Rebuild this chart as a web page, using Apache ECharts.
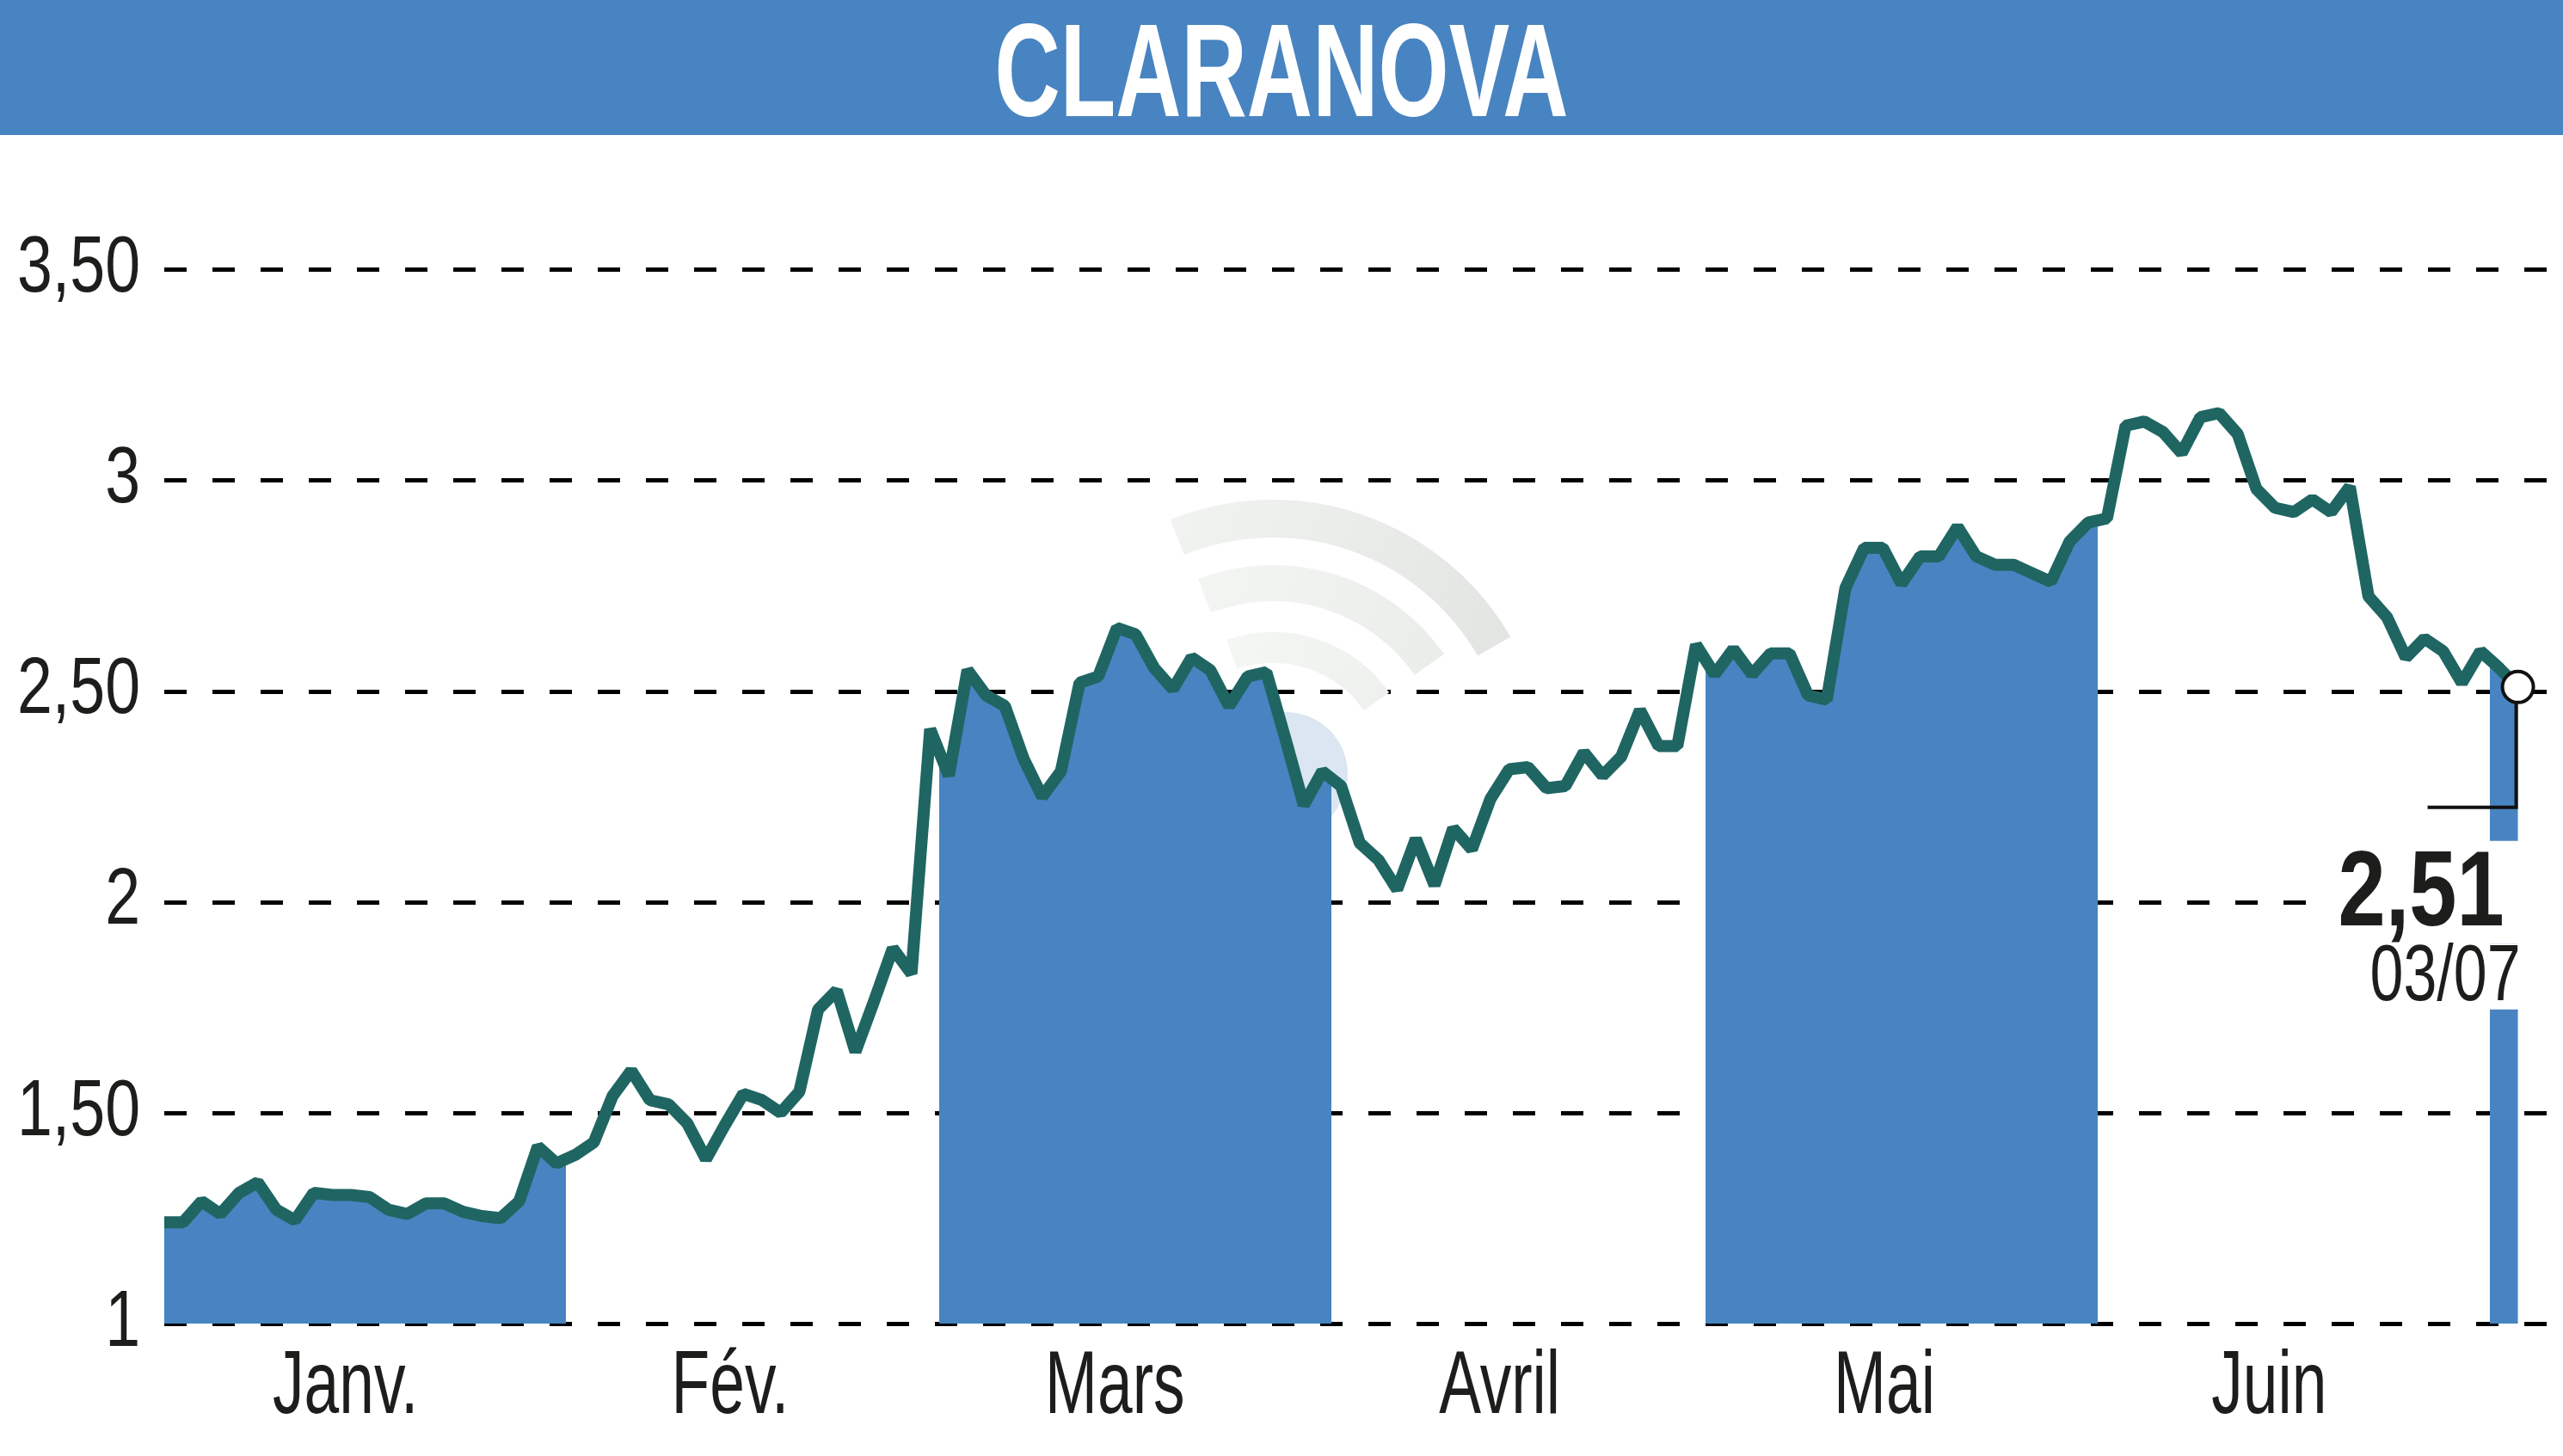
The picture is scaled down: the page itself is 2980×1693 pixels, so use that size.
<!DOCTYPE html>
<html>
<head>
<meta charset="utf-8">
<script src="https://cdn.jsdelivr.net/npm/echarts@6/dist/echarts.min.js"></script>
<style>html,body{margin:0;padding:0;background:#fff}#c{width:2980px;height:1693px}</style>
</head>
<body>
<div id="c"></div>
<script>
// ---------- data ----------
const title = 'CLARANOVA';
const months = ['Janv.', 'Fév.', 'Mars', 'Avril', 'Mai', 'Juin'];
// index of the first session of each month (Janv. .. Juil.)
const monthStart = [0, 22, 42, 63, 83, 104, 125];
// months drawn with a blue background (Janv., Mars, Mai, Juil.)
const shadedMonths = [0, 2, 4, 6];
const prices = [
  1.24, 1.24, 1.29, 1.26, 1.31, 1.335, 1.27, 1.245, 1.31, 1.305,
  1.305, 1.30, 1.27, 1.26, 1.285, 1.285, 1.265, 1.255, 1.25, 1.29,
  1.42, 1.38, 1.40, 1.43, 1.54, 1.60, 1.53, 1.52, 1.475, 1.39,
  1.47, 1.545, 1.53, 1.50, 1.55, 1.745, 1.79, 1.645, 1.765, 1.89,
  1.83, 2.41, 2.30, 2.55, 2.49, 2.465, 2.34, 2.25, 2.31, 2.52,
  2.535, 2.65, 2.635, 2.555, 2.505, 2.58, 2.55, 2.465, 2.535, 2.545,
  2.39, 2.23, 2.31, 2.275, 2.14, 2.10, 2.03, 2.15, 2.04, 2.175,
  2.125, 2.245, 2.315, 2.32, 2.27, 2.275, 2.355, 2.30, 2.345, 2.455,
  2.37, 2.37, 2.61, 2.54, 2.60, 2.54, 2.59, 2.59, 2.49, 2.48,
  2.745, 2.84, 2.84, 2.755, 2.82, 2.82, 2.89, 2.82, 2.80, 2.80,
  2.78, 2.76, 2.855, 2.90, 2.91, 3.13, 3.14, 3.115, 3.065, 3.15,
  3.16, 3.11, 2.98, 2.935, 2.925, 2.955, 2.925, 2.985, 2.725, 2.675,
  2.58, 2.625, 2.595, 2.52, 2.595, 2.555, 2.51
];
const lastDate = '03/07';
const yTicks = [1, 1.5, 2, 2.5, 3, 3.5];
const yTickLabels = ['1', '1,50', '2', '2,50', '3', '3,50'];

// ---------- style ----------
const BLUE = '#4884c1';
const LINE = '#1f6663';
const INK = '#1d1d1b';
const FONT = "'Liberation Sans', 'Arial', sans-serif";

const chart = echarts.init(document.getElementById('c'), null, { renderer: 'canvas' });
const data = prices.map((v, i) => [i, v]);
const last = prices.length - 1;
const pieces = shadedMonths.map(m => ({
  gte: monthStart[m] - 0.5,
  lt: (m + 1 < monthStart.length ? monthStart[m + 1] : prices.length) - 0.5,
  color: BLUE
}));

const option = {
  animation: false,
  backgroundColor: '#fff',
  grid: [
    { left: 191, right: 9, top: 313.6, bottom: 154, containLabel: false, outerBoundsMode: 'none' },
    { left: 178, right: 118, top: 313.6, bottom: 154, containLabel: false, outerBoundsMode: 'none' }
  ],
  xAxis: [
    { type: 'value', gridIndex: 0, min: 0, max: 128, show: false },
    {
      type: 'category', gridIndex: 1, data: months, boundaryGap: true,
      axisLine: { show: false }, axisTick: { show: false }, splitLine: { show: false },
      axisLabel: { show: false }
    }
  ],
  yAxis: [
    {
      type: 'value', gridIndex: 0, min: yTicks[0], max: yTicks[yTicks.length - 1], interval: 0.5,
      axisLine: { show: false }, axisTick: { show: false }, axisLabel: { show: false },
      splitLine: { show: true, lineStyle: { color: '#000', width: 5, type: [26, 30] } }
    },
    { type: 'value', gridIndex: 1, min: 0, max: 1, show: false }
  ],
  visualMap: {
    type: 'piecewise', show: false, dimension: 0, seriesIndex: 0,
    pieces: pieces, outOfRange: { color: 'rgba(72,132,193,0)' }
  },
  series: [
    {
      type: 'line', xAxisIndex: 0, yAxisIndex: 0, data: data, symbol: 'none', silent: true,
      lineStyle: { width: 0, opacity: 0 }, areaStyle: { opacity: 1, origin: 'start' }, z: 2
    },
    {
      type: 'line', xAxisIndex: 0, yAxisIndex: 0, data: data, symbol: 'none',
      lineStyle: { color: LINE, width: 14 }, z: 3,
      markPoint: {
        silent: true,
        data: [{
          coord: [last, prices[last]], symbol: 'circle', symbolSize: 36,
          itemStyle: { color: '#fff', borderColor: '#111', borderWidth: 4 },
          label: { show: false }
        }]
      }
    }
  ]
};
chart.setOption(option);

// ---------- texts & decorations placed through the chart's own scales ----------
const p = chart.convertToPixel({ gridIndex: 0 }, [last, prices[last]]);
const px = p[0], py = p[1];
const baseY = chart.convertToPixel({ yAxisIndex: 0 }, yTicks[0]);
const lastLabel = prices[last].toFixed(2).replace('.', ',');
const deg = Math.PI / 180;
const wmCx = 1480, wmCy = 900;
const Y_LABEL_RIGHT = 163;

const yLabelEls = yTicks.map((t, k) => ({
  type: 'text', silent: true, z: 10,
  x: Y_LABEL_RIGHT, y: chart.convertToPixel({ yAxisIndex: 0 }, t), scaleX: 0.79,
  style: { text: yTickLabels[k], fill: INK, fontSize: 93, fontFamily: FONT, align: 'right', verticalAlign: 'middle' }
}));
const monthEls = months.map(m => ({
  type: 'text', silent: true, z: 10,
  x: chart.convertToPixel({ xAxisIndex: 1 }, m), y: baseY + 76, scaleX: 0.71,
  style: { text: m, fill: INK, fontSize: 103, fontFamily: FONT, align: 'center', verticalAlign: 'middle' }
}));
const arcStroke = (a, b) => ({ type: 'linear', x: 0, y: 0, x2: 1, y2: 1, colorStops: [{ offset: 0, color: a }, { offset: 1, color: b }] });

chart.setOption({
  graphic: [
    { type: 'rect', silent: true, z: 0, shape: { x: 0, y: 0, width: 2980, height: 157 }, style: { fill: BLUE } },
    { type: 'text', silent: true, z: 1, x: 1490, y: 93, scaleX: 0.686,
      style: { text: title, fill: '#fff', fontSize: 154, fontWeight: 'bold', fontFamily: FONT, align: 'center', verticalAlign: 'middle' } },
    // watermark
    { type: 'circle', silent: true, z: 0, shape: { cx: 1495, cy: 900, r: 72 }, style: { fill: '#dbe6f2' } },
    { type: 'arc', silent: true, z: 0, shape: { cx: wmCx, cy: wmCy, r: 297, startAngle: -112 * deg, endAngle: -30 * deg, clockwise: true }, style: { stroke: arcStroke('#f2f4f2', '#e2e4e2'), lineWidth: 44, fill: null } },
    { type: 'arc', silent: true, z: 0, shape: { cx: wmCx, cy: wmCy, r: 222, startAngle: -111 * deg, endAngle: -35 * deg, clockwise: true }, style: { stroke: arcStroke('#f4f6f4', '#e9ece9'), lineWidth: 42, fill: null } },
    { type: 'arc', silent: true, z: 0, shape: { cx: wmCx, cy: wmCy, r: 147, startAngle: -109 * deg, endAngle: -35 * deg, clockwise: true }, style: { stroke: arcStroke('#f5f7f5', '#edf0ed'), lineWidth: 36, fill: null } },
    // axis labels
    ...yLabelEls,
    ...monthEls,
    // last value annotation
    { type: 'rect', silent: true, z: 100, shape: { x: px - 217, y: py + 179, width: 255, height: 120 }, style: { fill: '#fff' } },
    { type: 'rect', silent: true, z: 100, shape: { x: px - 171, y: py + 299, width: 174, height: 76 }, style: { fill: '#fff' } },
    { type: 'polyline', silent: true, z: 101, shape: { points: [[px - 2, py + 18], [px - 2, py + 140], [px - 105, py + 140]] }, style: { stroke: '#111', lineWidth: 4, fill: null } },
    { type: 'text', silent: true, z: 101, x: px - 16, y: py + 243, scaleX: 0.80,
      style: { text: lastLabel, fill: INK, fontSize: 124, fontWeight: 'bold', fontFamily: FONT, align: 'right', verticalAlign: 'middle' } },
    { type: 'text', silent: true, z: 101, x: px + 3, y: py + 339, scaleX: 0.76,
      style: { text: lastDate, fill: INK, fontSize: 92, fontFamily: FONT, align: 'right', verticalAlign: 'middle' } }
  ]
});
</script>
</body>
</html>
